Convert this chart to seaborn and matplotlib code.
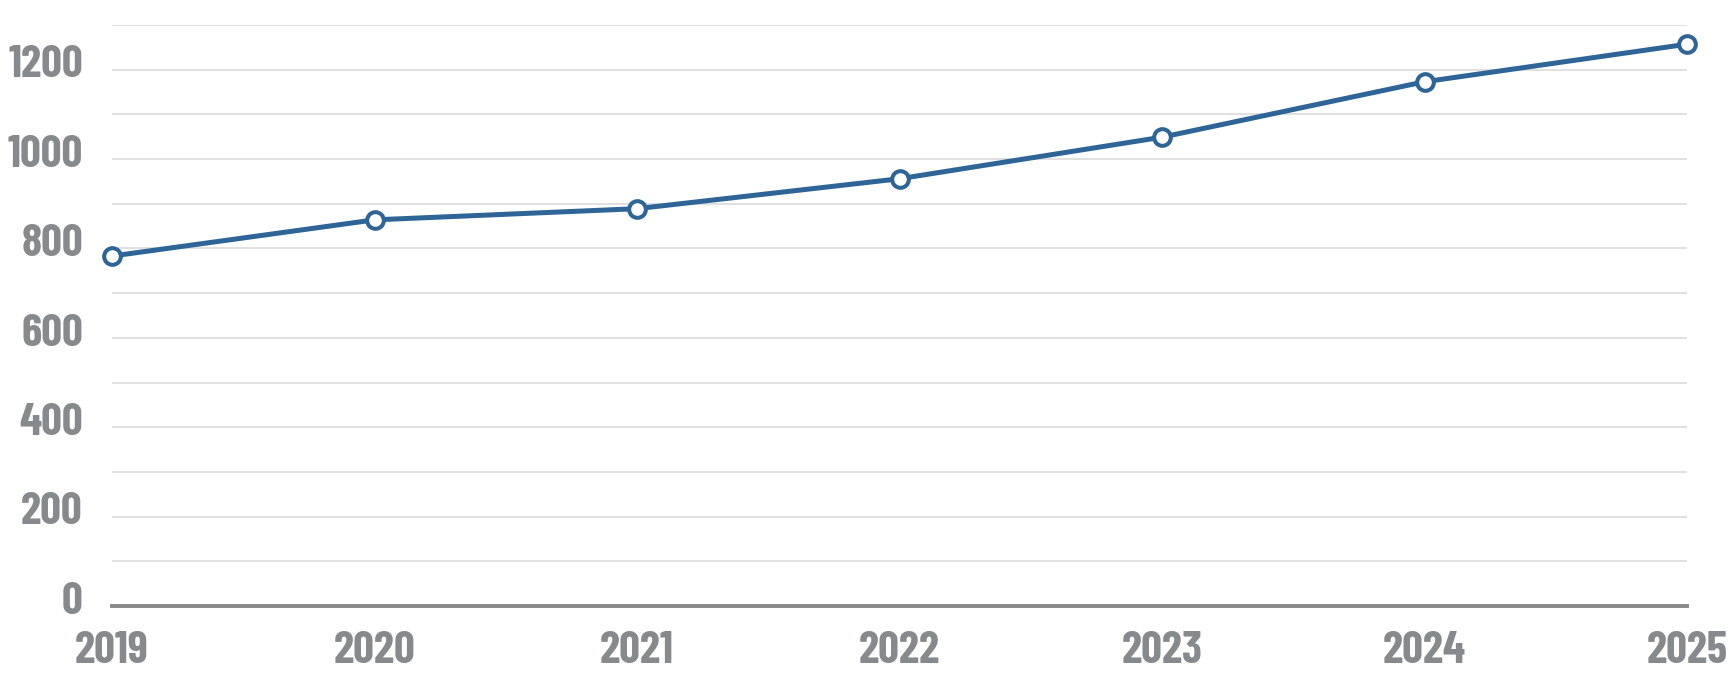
import matplotlib
matplotlib.use("Agg")
import matplotlib.pyplot as plt
import matplotlib.transforms as mtransforms
import seaborn as sns
import pandas as pd
from matplotlib.ticker import MultipleLocator

years = ["2019", "2020", "2021", "2022", "2023", "2024", "2025"]
values = [783, 864, 889, 956, 1049, 1173, 1257]
y_ticks = [0, 200, 400, 600, 800, 1000, 1200]

sns.set_theme(style="white")
plt.rcParams['font.family'] = ['Barlow Condensed', 'Roboto Condensed', 'Oswald',
                               'Fira Sans Extra Condensed', 'DejaVu Sans']

df = pd.DataFrame({"year": list(range(len(years))), "value": values})

fig = plt.figure(figsize=(17.32, 6.8), dpi=100)
ax = fig.add_axes([112/1732, 1-606/680, (1687-112)/1732, (606-25)/680])

sns.lineplot(data=df, x="year", y="value", ax=ax, color="#2E6596", linewidth=3.6,
             marker="o", markersize=12, markerfacecolor="white",
             markeredgecolor="#2E6596", markeredgewidth=2.9, clip_on=False, zorder=5)

ax.set_xlim(0, len(years) - 1)
ax.set_ylim(0, 1300)
ax.set_xticks(range(len(years)))
ax.set_xticklabels(years)
ax.set_yticks(y_ticks)
ax.yaxis.set_minor_locator(MultipleLocator(100))
ax.grid(True, which="both", axis="y", color="#D9D9D9", linewidth=1.1)
ax.grid(False, axis="x")
ax.set_axisbelow(True)

for s in ["top", "right", "left"]:
    ax.spines[s].set_visible(False)
ax.spines["bottom"].set_color("#888888")
ax.spines["bottom"].set_linewidth(2.8)
ax.spines["bottom"].set_zorder(3)

ax.tick_params(axis="both", which="both", length=0)
ax.tick_params(axis="x", pad=18)
ax.tick_params(axis="y", pad=21)
for lab in ax.get_xticklabels() + ax.get_yticklabels():
    lab.set_fontsize(33)
    lab.set_fontweight("bold")
    lab.set_color("#878A8C")

shift = mtransforms.ScaledTranslation(0, 6/72, fig.dpi_scale_trans)
for lab in ax.get_yticklabels():
    lab.set_transform(lab.get_transform() + shift)

ax.set_xlabel("")
ax.set_ylabel("")

fig.savefig("out.png", dpi=100)
